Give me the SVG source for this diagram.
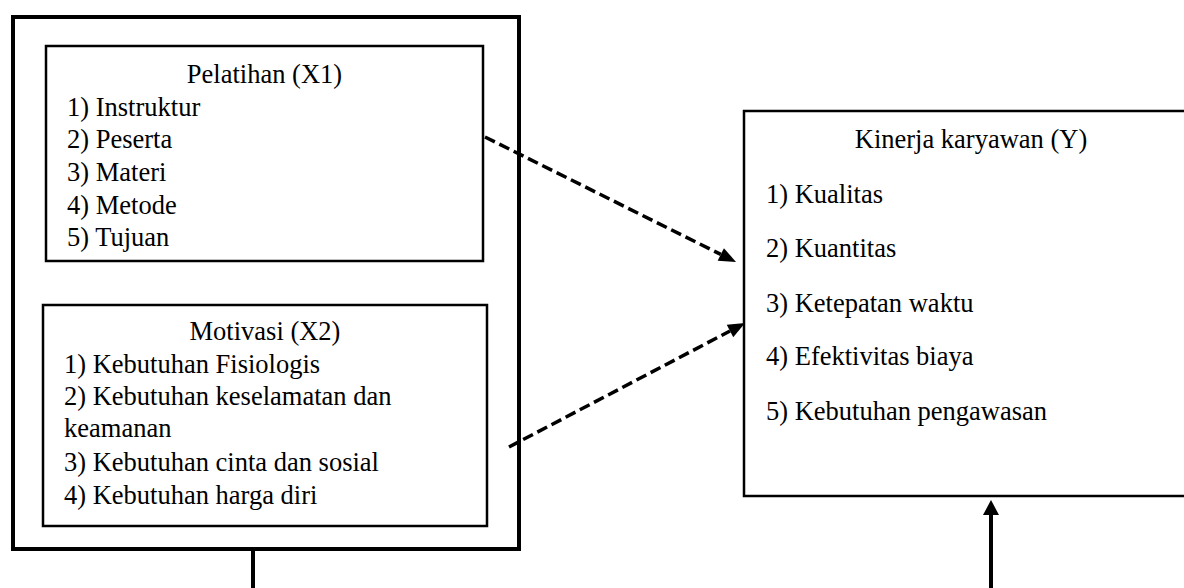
<svg xmlns="http://www.w3.org/2000/svg" width="1184" height="588" viewBox="0 0 1184 588">
<style>
text{font-family:"Liberation Serif","Times New Roman",serif;font-size:26.5px;fill:#000}
.t{text-anchor:middle}
.outer{fill:#fff;stroke:#000;stroke-width:4}
.box{fill:#fff;stroke:#000;stroke-width:2.5}
.dash{fill:none;stroke:#000;stroke-width:3.5;stroke-dasharray:11 5}
.solid{fill:none;stroke:#000;stroke-width:4}
</style>
<defs>
<marker id="ah" markerUnits="userSpaceOnUse" markerWidth="18" markerHeight="16" refX="0" refY="7" orient="auto" overflow="visible">
<path d="M0,0 L17,7 L0,14 z" fill="#000"/>
</marker>
<marker id="ahu" markerUnits="userSpaceOnUse" markerWidth="18" markerHeight="18" refX="0" refY="8" orient="auto" overflow="visible">
<path d="M0,0 L15,8 L0,16 z" fill="#000"/>
</marker>
</defs>
<g id="independent">
<rect class="outer" x="13" y="17" width="506" height="532"/>
</g>
<g id="pelatihan">
<rect class="box" x="46" y="46" width="437" height="215"/>
<text class="t" x="264.5" y="83">Pelatihan (X1)</text>
<text x="67" y="116">1) Instruktur</text>
<text x="67" y="148">2) Peserta</text>
<text x="67" y="181">3) Materi</text>
<text x="67" y="214">4) Metode</text>
<text x="67" y="246">5) Tujuan</text>
</g>
<g id="motivasi">
<rect class="box" x="43" y="305" width="444" height="221"/>
<text class="t" x="265" y="340">Motivasi (X2)</text>
<text x="64" y="373">1) Kebutuhan Fisiologis</text>
<text x="64" y="405">2) Kebutuhan keselamatan dan</text>
<text x="64" y="437">keamanan</text>
<text x="64" y="471">3) Kebutuhan cinta dan sosial</text>
<text x="64" y="504">4) Kebutuhan harga diri</text>
</g>
<g id="kinerja">
<rect class="box" x="744" y="111" width="470" height="385"/>
<text class="t" x="971" y="148">Kinerja karyawan (Y)</text>
<text x="766" y="203">1) Kualitas</text>
<text x="766" y="257">2) Kuantitas</text>
<text x="766" y="312">3) Ketepatan waktu</text>
<text x="766" y="365">4) Efektivitas biaya</text>
<text x="766" y="420">5) Kebutuhan pengawasan</text>
</g>
<g id="connectors">
<line class="dash" x1="485" y1="137" x2="720.8" y2="254.4" marker-end="url(#ah)"/>
<line class="dash" x1="509" y1="447" x2="730" y2="331" marker-end="url(#ah)"/>
<line class="solid" x1="253" y1="549" x2="253" y2="588"/>
<line class="solid" x1="991" y1="588" x2="991" y2="515" marker-end="url(#ahu)"/>
</g>
</svg>
